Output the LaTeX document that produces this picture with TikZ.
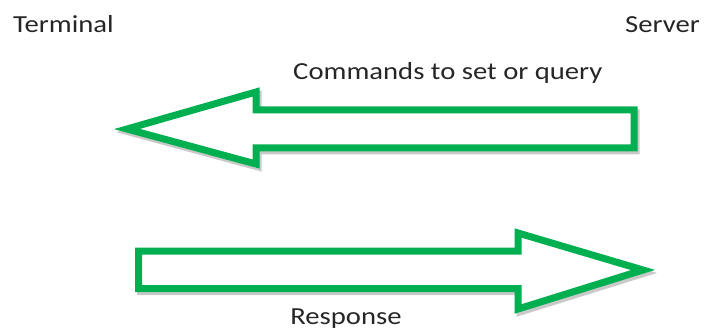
\documentclass[tikz,border=0pt]{standalone}
\usepackage{fontspec}
\setmainfont{Carlito}
\definecolor{arrowgreen}{RGB}{0,176,80}

% block arrow outlines (stroke centres, y downwards)
\newcommand{\queryarrow}{(127,129) -- (256,92) -- (256,110) -- (634,110)
      -- (634,148) -- (256,148) -- (256,164) -- cycle}
\newcommand{\resparrow}{(643,270) -- (518,233) -- (518,251) -- (138.5,251)
      -- (138.5,288.5) -- (518,288.5) -- (518,309) -- cycle}

\begin{document}
\begin{tikzpicture}[
      x=1pt, y=-1pt,
      label/.style={font=\fontsize{24.5}{28}\selectfont, text=black!85,
            xscale=1.17, inner sep=0pt},
      block/.style={draw=arrowgreen, fill=white, line width=7pt, line join=miter},
      blockshadow/.style={draw=black!30, fill=black!30, line width=7pt,
            line join=miter, opacity=0.7, shift={(2,3)}}
      ]
    \useasboundingbox (0,0) rectangle (709,331);

    \node[label, anchor=base west] (term) at (13,33) {Terminal};
    \node[label, anchor=base east] (serv) at (700,33) {Server};

    % commands: server -> terminal
    \draw[blockshadow] \queryarrow;
    \draw[block] \queryarrow;
    % response: terminal -> server
    \draw[blockshadow] \resparrow;
    \draw[block] \resparrow;

    \node[label, anchor=base west] (qtext) at (293,80) {Commands to set or query};
    \node[label, anchor=base] (rtext) at (346,324) {Response};
  \end{tikzpicture}
\end{document}
